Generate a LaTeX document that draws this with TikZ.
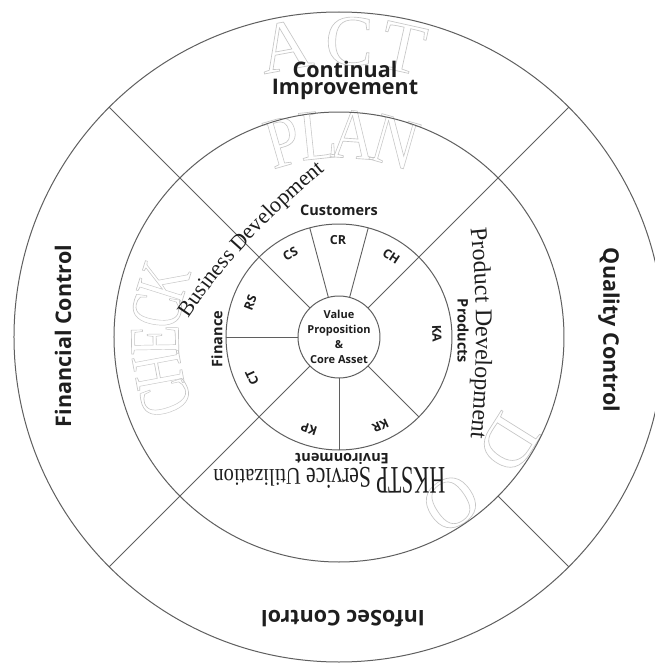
\documentclass[tikz,border=0pt]{standalone}
\usepackage{fontspec}
\setmainfont{Liberation Serif}
\newfontfamily\osans{Open Sans}
\newfontfamily\hkA{Liberation Serif}[FakeStretch=0.56]
\newfontfamily\hkB{Liberation Serif}[FakeStretch=0.72]
\newfontfamily\hkC{Liberation Serif}[FakeStretch=0.85]
\usetikzlibrary{decorations.text}
\definecolor{linegray}{HTML}{5F5F5F}
\definecolor{ghostgray}{HTML}{C6C6C6}
\definecolor{txt}{HTML}{1E1E1E}
\newcommand\ghosttext[1]{\special{pdf:literal direct 1 Tr 0.65 w}#1\special{pdf:literal direct 0 Tr}}
\newcommand\fhk{\hkA\fontsize{39}{39}\selectfont}
\newcommand\fsv{\hkB\fontsize{30}{30}\selectfont}
\newcommand\fut{\hkC\fontsize{24}{24}\selectfont}
\newcommand\fbd{\fontsize{22}{22}\selectfont}
\newcommand\fpd{\fontsize{24}{24}\selectfont}
\begin{document}
\begin{tikzpicture}[x=1pt,y=1pt,
  ringc/.style={circle, draw=linegray, line width=1pt, inner sep=0, outer sep=0},
  divider/.style={draw=linegray, line width=0.9pt},
  biglabel/.style={font=\osans\bfseries\fontsize{21.5}{17}\selectfont, text=txt, align=center, inner sep=0},
  midlabel/.style={font=\osans\bfseries\fontsize{14.5}{16}\selectfont, text=txt, inner sep=0},
  seglabel/.style={font=\osans\bfseries\fontsize{12.5}{14}\selectfont, text=txt, inner sep=0},
  corelabel/.style={font=\osans\bfseries\fontsize{11}{15}\selectfont, text=txt, align=center, inner sep=0},
  ghost/.style={font=\fontsize{72}{72}\selectfont, text=ghostgray, inner sep=0},
  arctext/.style={decorate, decoration={text along path, text align=center, text color=txt, #1}},
]
\useasboundingbox (-339,-328) rectangle (316,337);
\clip (-339,-328) rectangle (316,337);
\fill[white] (-339,-328) rectangle (316,337);

% ghost letters
\node[ghost, rotate=10.5] (gA) at (100.5:296) {\ghosttext{A}};
\node[ghost, rotate=-2] (gC) at (88:296) {\ghosttext{C}};
\node[ghost, rotate=-12.5] (gT) at (77.5:296) {\ghosttext{T}};
\node[ghost, rotate=16, xscale=0.85] (gP) at (106:203) {\ghosttext{P}};
\node[ghost, rotate=6, xscale=0.85] (gL) at (96:203) {\ghosttext{L}};
\node[ghost, rotate=-4, xscale=0.85] (gA2) at (86:203) {\ghosttext{A}};
\node[ghost, rotate=-16, xscale=0.85] (gN) at (74:203) {\ghosttext{N}};
\node[ghost, rotate=109.5, xscale=0.68] (gC1) at (199.5:184) {\ghosttext{C}};
\node[ghost, rotate=100.5, xscale=0.68] (gH) at (190.5:184) {\ghosttext{H}};
\node[ghost, rotate=91, xscale=0.68] (gE) at (181:184) {\ghosttext{E}};
\node[ghost, rotate=81.7, xscale=0.68] (gC2) at (171.7:184) {\ghosttext{C}};
\node[ghost, rotate=72.5, xscale=0.68] (gK) at (162.5:184) {\ghosttext{K}};
\node[ghost, rotate=-122] (gD) at (-32:200) {\ghosttext{D}};
\node[ghost, rotate=-146] (gO) at (-56:200) {\ghosttext{O}};

% circles
\node[ringc, minimum size=650] (outer) at (0,0) {};
\node[ringc, minimum size=450] (middle) at (0,0) {};
\node[ringc, minimum size=226] (inner) at (0,0) {};
\node[ringc, minimum size=82] (core) at (0,0) {};

% dividers
\draw[divider] (outer.135) -- (core.135);
\draw[divider] (outer.45) -- (core.45);
\draw[divider] (outer.225) -- (core.225);
\draw[divider] (outer.315) -- (middle.315);
\draw[divider] (inner.315) -- (core.315);
\draw[divider] (inner.105) -- (core.105);
\draw[divider] (inner.75) -- (core.75);
\draw[divider] (inner.270) -- (core.270);
\draw[divider] (inner.180) -- (core.180);

% big labels
\node[biglabel] (ci) at (6,257) {Continual\\Improvement};
\node[biglabel, rotate=90] (fc) at (-276,1) {Financial Control};
\node[biglabel, rotate=-90] (qc) at (270,7) {Quality Control};
\node[biglabel, rotate=180] (ic) at (4,-282) {InfoSec Control};

% ring-side labels
\node[midlabel] (cust) at (0,127) {Customers};
\node[midlabel, rotate=-90] (prod) at (124,6) {Products};
\node[midlabel, rotate=90] (fin) at (-122,-2) {Finance};
\node[midlabel, rotate=180] (env) at (3,-122) {Environment};

% segment labels
\node[seglabel, rotate=30.5] (cs) at (120.5:96) {CS};
\node[seglabel, rotate=0] (cr) at (90.6:97) {CR};
\node[seglabel, rotate=-33] (ch) at (57:96) {CH};
\node[seglabel, rotate=-88] (ka) at (2:98) {KA};
\node[seglabel, rotate=-155] (kr) at (-65:98) {KR};
\node[seglabel, rotate=162] (kp) at (-108:97) {KP};
\node[seglabel, rotate=115] (ct) at (-155:96) {CT};
\node[seglabel, rotate=69] (rs) at (159:95) {RS};

% core
\node[corelabel] (vp) at (core.center) {Value\\Proposition\\\&\\Core Asset};

% arc texts
\path[arctext={text={|\fbd|Business Development}}] (-153,15) .. controls (-114,74) and (-66,125) .. (-11,169);
\path[arctext={text={|\fpd|Product Development}}] (131,115) .. controls (139,41) and (139,-34) .. (131,-108);
\path[arctext={text={|\fhk|HKSTP |\fsv|Service |\fut|Utilization}}] (111,-130) -- (-130,-133);
\end{tikzpicture}
\end{document}
